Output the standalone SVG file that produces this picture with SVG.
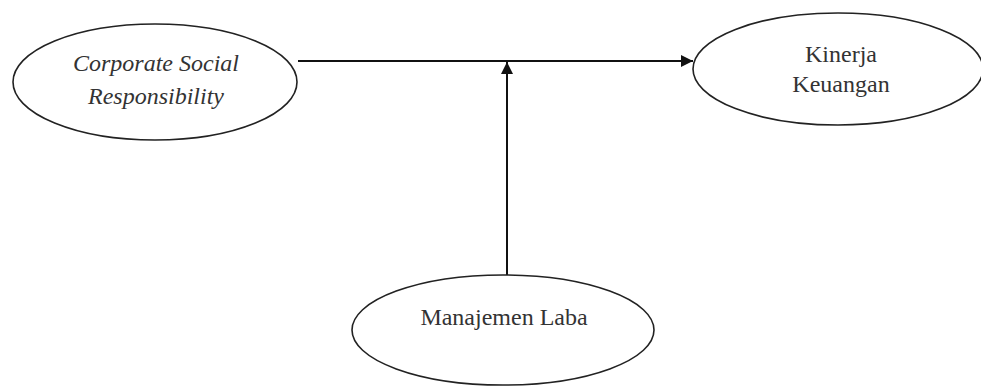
<svg xmlns="http://www.w3.org/2000/svg" width="981" height="386" viewBox="0 0 981 386">
<style>
.node{fill:#fff;stroke:#222;stroke-width:1.6}
.t{font-family:'Liberation Serif','Times New Roman',serif;font-size:24px;fill:#333;text-anchor:middle}
.i{font-style:italic}
.c{stroke:#111;stroke-width:2;fill:none}
</style>
<defs>
<marker id="ah" viewBox="0 0 10 10" refX="10" refY="5" markerWidth="12" markerHeight="12" markerUnits="userSpaceOnUse" orient="auto">
<path d="M0,0 L10,5 L0,10 z" fill="#111"/>
</marker>
</defs>
<rect width="981" height="386" fill="#fff"/>
<g id="connectors">
<line class="c" x1="298" y1="61" x2="693" y2="61" marker-end="url(#ah)"/>
<line class="c" x1="507" y1="276" x2="507" y2="62" marker-end="url(#ah)"/>
</g>
<g id="csr">
<ellipse class="node" cx="155" cy="82" rx="142" ry="58"/>
<text class="t i" x="156" y="71">Corporate Social</text>
<text class="t i" x="156" y="104">Responsibility</text>
</g>
<g id="kinerja">
<ellipse class="node" cx="838" cy="69" rx="145" ry="56"/>
<text class="t" x="841" y="62">Kinerja</text>
<text class="t" x="841" y="92">Keuangan</text>
</g>
<g id="manajemen">
<ellipse class="node" cx="503" cy="330" rx="151" ry="55"/>
<text class="t" x="504" y="325">Manajemen Laba</text>
</g>
</svg>
